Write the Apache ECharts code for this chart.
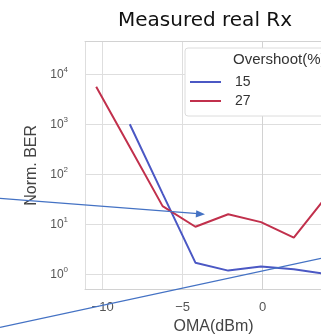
<!DOCTYPE html>
<html><head><meta charset="utf-8">
<script src="https://cdn.jsdelivr.net/npm/echarts@6/dist/echarts.min.js"></script>
<style>html,body{margin:0;padding:0;background:#fff}#c{width:321px;height:334px}</style>
</head><body><div id="c"></div>
<script>
// ---- data ----
const omaDbm = [-10.4, -8.3, -6.25, -4.2, -2.15, -0.1, 1.95, 4.0];
const overshoot15 = [null, 1000, 41, 1.7, 1.18, 1.42, 1.26, 1.0];
const overshoot27 = [5600, 350, 23, 8.9, 15.8, 11, 5.4, 36];
const seriesNames = ['15', '27'];
const xTickValues = [-10, -5, 0];
const xTickLabels = ['\u221210', '\u22125', '0'];
const titleText = 'Measured real Rx';
const legendTitle = 'Overshoot(%)';

function pairs(ys) {
  const out = [];
  ys.forEach((v, i) => { if (v != null) out.push([omaDbm[i], v]); });
  return out;
}

const chart = echarts.init(document.getElementById('c'), null, {renderer: 'canvas'});
const arrowColor = '#4472C4';
const frameColor = '#d2d2d2';
const xMin = -11.1, xMax = 4.1;
chart.setOption({
  animation: false,
  backgroundColor: '#fff',
  title: [
    {text: titleText, left: 200, top: 6, textAlign: 'center',
     textStyle: {fontFamily: 'DejaVu Sans', fontSize: 20, fontWeight: 'normal', color: '#111'}},
    {text: legendTitle, left: 228, top: 47,
     textStyle: {fontFamily: 'Liberation Sans', fontSize: 15, fontWeight: 'normal', color: '#333'}}
  ],
  legend: {
    orient: 'vertical', left: 185, top: 48,
    padding: [27, 120, 8, 5],
    itemGap: 5, itemWidth: 31, itemHeight: 2, icon: 'rect',
    backgroundColor: '#fff', borderColor: '#dcdcdc', borderWidth: 1, borderRadius: 3,
    textStyle: {fontFamily: 'Liberation Sans', fontSize: 14, color: '#333', lineHeight: 14, padding: [0, 0, 0, 9]},
    data: seriesNames
  },
  grid: {left: 85, top: 41.7, width: (xMax - xMin) * 16, bottom: 45, show: false,
         containLabel: false, outerBoundsMode: 'none'},
  xAxis: [{
    type: 'value', min: xMin, max: xMax, splitNumber: 3, minInterval: 5, maxInterval: 5,
    name: 'OMA(dBm)', nameLocation: 'middle', nameGap: 28,
    nameTextStyle: {fontFamily: 'Liberation Sans', fontSize: 16, color: '#444', align: 'center', padding: [0, 0, 0, 14]},
    axisLine: {show: true, lineStyle: {color: frameColor, width: 1}}, axisTick: {show: false},
    splitLine: {show: true, lineStyle: {color: '#dedede', width: 1}},
    axisLabel: {margin: 12, fontFamily: 'Liberation Sans', fontSize: 13, color: '#555',
      formatter: v => { const i = xTickValues.indexOf(Math.round(v * 1000) / 1000); return i >= 0 ? xTickLabels[i] : ''; }}
  }, {
    type: 'value', position: 'top', min: xMin, max: xMax,
    axisLine: {show: true, lineStyle: {color: frameColor, width: 1}},
    axisTick: {show: false}, axisLabel: {show: false}, splitLine: {show: false}
  }],
  yAxis: {
    type: 'log', logBase: 10, min: 0.506, max: 44668,
    name: 'Norm. BER', nameLocation: 'middle', nameGap: 35, nameRotate: 90,
    nameTextStyle: {fontFamily: 'Liberation Sans', fontSize: 16, color: '#444'},
    axisLine: {show: true, lineStyle: {color: frameColor, width: 1}}, axisTick: {show: false},
    splitLine: {show: true, lineStyle: {color: '#dedede', width: 1}},
    axisLabel: {margin: 17, showMinLabel: false, showMaxLabel: false,
      formatter: v => {
        const e = Math.log10(v);
        if (Math.abs(e - Math.round(e)) > 1e-6) return '';
        return '{b|10}{s|' + Math.round(e) + '}';
      },
      rich: {
        b: {fontFamily: 'Liberation Sans', fontSize: 12, color: '#555', lineHeight: 16},
        s: {fontFamily: 'Liberation Sans', fontSize: 8, color: '#555', lineHeight: 8, verticalAlign: 'top'}
      }}
  },
  series: [
    {name: seriesNames[0], type: 'line', data: pairs(overshoot15), showSymbol: false, symbol: 'none',
     lineStyle: {color: '#4B58C4', width: 2}, itemStyle: {color: '#4B58C4'}},
    {name: seriesNames[1], type: 'line', data: pairs(overshoot27), showSymbol: false, symbol: 'none',
     lineStyle: {color: '#C1304C', width: 2}, itemStyle: {color: '#C1304C'}}
  ],
  graphic: [
    {type: 'line', z: 100, shape: {x1: 0, y1: 198.3, x2: 198, y2: 213.7},
     style: {stroke: arrowColor, lineWidth: 1.2}},
    {type: 'polygon', z: 100, shape: {points: [[205, 214.3], [196.3, 210.2], [195.7, 217.6]]},
     style: {fill: arrowColor}},
    {type: 'line', z: 100, shape: {x1: 0, y1: 327.3, x2: 321, y2: 258.3},
     style: {stroke: arrowColor, lineWidth: 1.2}}
  ]
});
</script></body></html>
